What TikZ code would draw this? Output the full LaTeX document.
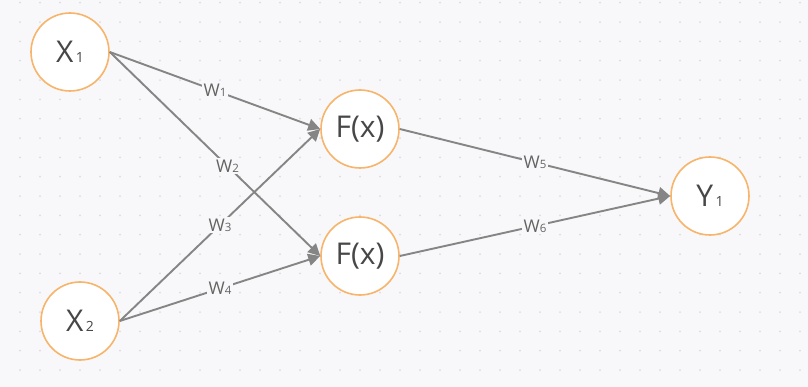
\documentclass[tikz,border=0pt]{standalone}
\usepackage{fontspec}
\setmainfont{Open Sans}
\usetikzlibrary{arrows.meta}

\definecolor{bgcol}{HTML}{F8F8FA}
\definecolor{dotcol}{HTML}{DCDCE2}
\definecolor{ringcol}{HTML}{F7B46A}
\definecolor{edgecol}{HTML}{858585}
\definecolor{txtcol}{HTML}{474747}

% small index digits, sitting on the baseline
\newcommand{\idx}[1]{{\fontsize{14}{14}\selectfont\,#1}}
\newcommand{\widx}[1]{{\fontsize{11.5}{11.5}\selectfont #1}}

\tikzset{
  neuron/.style={circle, draw=ringcol, line width=1.6pt, fill=white,
    minimum size=78pt, inner sep=0pt, text=txtcol,
    font=\fontsize{30}{30}\selectfont},
  link/.style={draw=edgecol, line width=1.9pt,
    -{Triangle[length=12pt,width=12pt]}},
  weight/.style={fill=bgcol, text=txtcol!85, inner sep=2pt,
    font=\fontsize{17.5}{17.5}\selectfont}
}

\begin{document}
\begin{tikzpicture}[x=1pt,y=-1pt]
  \fill[bgcol] (0,0) rectangle (808,387);
  \useasboundingbox (0,0) rectangle (808,387);
  % dotted grid
  \foreach \i in {1,...,40}
    \foreach \j in {0,...,19}
      \fill[dotcol] ({20*\i},{2.7+19.333*\j}) circle (1pt);

  \node[neuron] (x1) at (70,52) {X\idx{1}};
  \node[neuron] (x2) at (80,321) {X\idx{2}};
  \node[neuron] (f1) at (360,129) {F(x)};
  \node[neuron] (f2) at (360,256) {F(x)};
  \node[neuron] (y1) at (710,196) {Y\idx{1}};

  \draw[link] (x1.east) -- node[weight] {W\widx{1}} (f1.west);
  \draw[link] (x1.east) -- node[weight, pos=0.56] {W\widx{2}} (f2.west);
  \draw[link] (x2.east) -- node[weight] {W\widx{3}} (f1.west);
  \draw[link] (x2.east) -- node[weight] {W\widx{4}} (f2.west);
  \draw[link] (f1.east) -- node[weight] {W\widx{5}} (y1.west);
  \draw[link] (f2.east) -- node[weight] {W\widx{6}} (y1.west);
\end{tikzpicture}
\end{document}
